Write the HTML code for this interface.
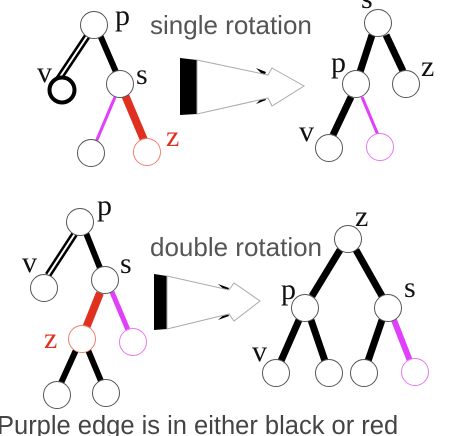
<!DOCTYPE html>
<html><head><meta charset="utf-8"><style>
html,body{margin:0;padding:0;background:#fff;width:451px;height:436px;overflow:hidden}
svg{display:block}
.lbl{font-family:"Liberation Serif",serif;font-size:30px;fill:#111}
.cap{font-family:"Liberation Sans",sans-serif;font-size:26px;fill:#555}
</style></head><body>
<svg width="451" height="436" viewBox="0 0 451 436">
<g>
  <line x1="88" y1="35" x2="58" y2="80" stroke="#000" stroke-width="7"/>
  <line x1="88" y1="35" x2="58" y2="80" stroke="#fff" stroke-width="2"/>
  <line x1="100" y1="35" x2="116" y2="72" stroke="#000" stroke-width="6"/>
  <line x1="115" y1="97" x2="96" y2="142" stroke="#e040fb" stroke-width="3"/>
  <line x1="125" y1="95" x2="144" y2="140" stroke="#e03020" stroke-width="8"/>
  <circle cx="94" cy="25" r="13.5" fill="#fff" stroke="#555"/>
  <circle cx="62" cy="90" r="12.5" fill="#fff" stroke="#000" stroke-width="4"/>
  <circle cx="120" cy="84" r="13.5" fill="#fff" stroke="#555"/>
  <circle cx="91" cy="153" r="13.5" fill="#fff" stroke="#555"/>
  <circle cx="147" cy="152" r="13.5" fill="#fff" stroke="#f08070"/>
  <text x="115" y="25" class="lbl">p</text>
  <text x="37" y="82" class="lbl">v</text>
  <text x="136" y="84" class="lbl">s</text>
  <text x="166" y="146" class="lbl" style="fill:#e03020">z</text>
</g>
<text x="150" y="34" class="cap">single rotation</text>
<g>
  <polygon points="180,58 197,60 197,114 180,115" fill="#000"/>
  <polygon points="256,68 266,72 264,76" fill="#000"/>
  <polygon points="256,104 266,100 264,96" fill="#000"/>
  <polygon points="197,60 268,75 272,68 304,86 272,106 268,98 197,114" fill="#fff" stroke="#aaa" stroke-width="1"/>
</g>
<g>
  <line x1="372" y1="35" x2="360" y2="72" stroke="#000" stroke-width="7"/>
  <line x1="386" y1="35" x2="403" y2="71" stroke="#000" stroke-width="7"/>
  <line x1="351" y1="97" x2="333" y2="135" stroke="#000" stroke-width="7"/>
  <line x1="362" y1="97" x2="378" y2="135" stroke="#e040fb" stroke-width="3"/>
  <circle cx="378" cy="23" r="13.5" fill="#fff" stroke="#555"/>
  <circle cx="356" cy="84" r="13.5" fill="#fff" stroke="#555"/>
  <circle cx="406" cy="84" r="13.5" fill="#fff" stroke="#555"/>
  <circle cx="329" cy="148" r="13.5" fill="#fff" stroke="#555"/>
  <circle cx="380" cy="147" r="13.5" fill="#fff" stroke="#e878f0"/>
  <text x="361" y="8" class="lbl">s</text>
  <text x="331" y="72" class="lbl">p</text>
  <text x="421" y="76" class="lbl">z</text>
  <text x="299" y="141" class="lbl">v</text>
</g>
<g>
  <line x1="76" y1="232" x2="48" y2="275" stroke="#000" stroke-width="7"/>
  <line x1="76" y1="232" x2="48" y2="275" stroke="#fff" stroke-width="2"/>
  <line x1="86" y1="233" x2="100" y2="268" stroke="#000" stroke-width="6"/>
  <line x1="100" y1="293" x2="86" y2="328" stroke="#e03020" stroke-width="8"/>
  <line x1="112" y1="292" x2="128" y2="330" stroke="#e040fb" stroke-width="5"/>
  <line x1="76" y1="350" x2="61" y2="383" stroke="#000" stroke-width="6"/>
  <line x1="88" y1="350" x2="101" y2="381" stroke="#000" stroke-width="6"/>
  <circle cx="80" cy="222" r="13.5" fill="#fff" stroke="#555"/>
  <circle cx="44" cy="288" r="13.5" fill="#fff" stroke="#555"/>
  <circle cx="105" cy="280" r="13.5" fill="#fff" stroke="#555"/>
  <circle cx="82" cy="339" r="13.5" fill="#fff" stroke="#f08070"/>
  <circle cx="133" cy="342" r="13.5" fill="#fff" stroke="#e878f0"/>
  <circle cx="57" cy="395" r="13.5" fill="#fff" stroke="#555"/>
  <circle cx="106" cy="393" r="13.5" fill="#fff" stroke="#555"/>
  <text x="97" y="215" class="lbl">p</text>
  <text x="22" y="272" class="lbl">v</text>
  <text x="120" y="273" class="lbl">s</text>
  <text x="44" y="348" class="lbl" style="fill:#e03020">z</text>
</g>
<text x="150" y="256" class="cap">double rotation</text>
<g>
  <polygon points="154,274 167,276 167,329 154,330" fill="#000"/>
  <polygon points="218,284 229,288 227,292" fill="#000"/>
  <polygon points="218,320 229,316 227,312" fill="#000"/>
  <polygon points="167,276 229,290 234,283 260,301 234,321 229,314 167,329" fill="#fff" stroke="#aaa" stroke-width="1"/>
</g>
<g>
  <line x1="340" y1="250" x2="312" y2="296" stroke="#000" stroke-width="7"/>
  <line x1="356" y1="250" x2="382" y2="296" stroke="#000" stroke-width="7"/>
  <line x1="299" y1="320" x2="281" y2="361" stroke="#000" stroke-width="7"/>
  <line x1="311" y1="320" x2="325" y2="361" stroke="#000" stroke-width="7"/>
  <line x1="382" y1="320" x2="368" y2="361" stroke="#000" stroke-width="7"/>
  <line x1="394" y1="320" x2="410" y2="361" stroke="#e040fb" stroke-width="6"/>
  <circle cx="348" cy="239" r="13.5" fill="#fff" stroke="#555"/>
  <circle cx="305" cy="308" r="13.5" fill="#fff" stroke="#555"/>
  <circle cx="388" cy="308" r="13.5" fill="#fff" stroke="#555"/>
  <circle cx="276" cy="373" r="13.5" fill="#fff" stroke="#555"/>
  <circle cx="329" cy="373" r="13.5" fill="#fff" stroke="#555"/>
  <circle cx="364" cy="373" r="13.5" fill="#fff" stroke="#555"/>
  <circle cx="415" cy="372" r="13.5" fill="#fff" stroke="#e878f0"/>
  <text x="355" y="226" class="lbl">z</text>
  <text x="281" y="299" class="lbl">p</text>
  <text x="404" y="297" class="lbl">s</text>
  <text x="252" y="361" class="lbl">v</text>
</g>
<text x="-3" y="434" class="cap" style="fill:#444;font-size:25.5px">Purple edge is in either black or red</text>
</svg>
</body></html>
